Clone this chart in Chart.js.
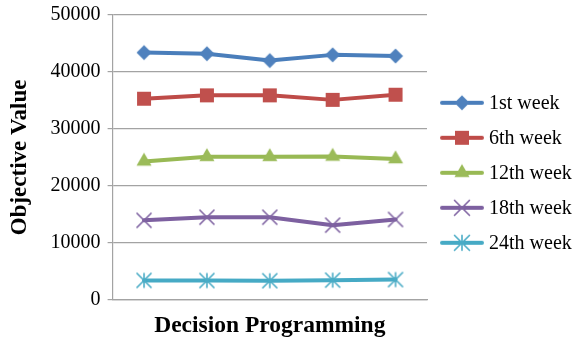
<!DOCTYPE html>
<html>
<head>
<meta charset="utf-8">
<script src="https://cdn.jsdelivr.net/npm/chart.js@4"></script>
<style>
  html, body { margin: 0; padding: 0; background: #ffffff; }
  #wrap { width: 575px; height: 340px; }
</style>
</head>
<body>
<div id="wrap"><canvas id="chart" width="575" height="340"></canvas></div>
<script>
// Decision programming runs (five alternatives along the x axis)
const categories = ['1', '2', '3', '4', '5'];
const seriesNames = ['1st week', '6th week', '12th week', '18th week', '24th week'];

// Objective value per run, one array per planning week
const week1  = [43400, 43200, 42000, 43000, 42800];
const week6  = [35300, 35900, 35900, 35100, 36000];
const week12 = [24300, 25100, 25100, 25150, 24700];
const week18 = [13950, 14500, 14500, 13100, 14100];
const week24 = [3400, 3380, 3350, 3450, 3550];

const yTicks = [0, 10000, 20000, 30000, 40000, 50000];

const seriesValues = [week1, week6, week12, week18, week24];
const lineColors   = ['#4A7EBB', '#BE4B48', '#98B954', '#7D60A0', '#46AAC5'];
const markerColors = ['#4F81BD', '#C0504D', '#9BBB59', '#8064A2', '#4BACC6'];
const markerKinds  = ['diamond', 'square', 'triangle', 'cross', 'asterisk'];

const SERIF = "'Liberation Serif', 'Times New Roman', Times, serif";

// Draws one marker glyph centred on (x, y)
function drawMarker(ctx, kind, x, y, color) {
  ctx.fillStyle = color;
  ctx.strokeStyle = color;
  ctx.beginPath();
  if (kind === 'diamond') {
    const r = 7.5;
    ctx.moveTo(x, y - r); ctx.lineTo(x + r, y); ctx.lineTo(x, y + r); ctx.lineTo(x - r, y);
    ctx.closePath(); ctx.fill();
  } else if (kind === 'square') {
    const s = 7;
    ctx.rect(x - s, y - s, 2 * s, 2 * s); ctx.fill();
  } else if (kind === 'triangle') {
    const r = 8.7;
    ctx.moveTo(x, y - r); ctx.lineTo(x + r * 0.866, y + r / 2); ctx.lineTo(x - r * 0.866, y + r / 2);
    ctx.closePath(); ctx.fill();
  } else {
    const d = 7.5;
    ctx.lineWidth = 1.6;
    ctx.moveTo(x - d, y - d); ctx.lineTo(x + d, y + d);
    ctx.moveTo(x + d, y - d); ctx.lineTo(x - d, y + d);
    if (kind === 'asterisk') { ctx.moveTo(x, y - d); ctx.lineTo(x, y + d); }
    ctx.stroke();
  }
}

function markerImage(i) {
  const cv = document.createElement('canvas');
  cv.width = 20; cv.height = 20;
  drawMarker(cv.getContext('2d'), markerKinds[i], 10, 10, markerColors[i]);
  return cv;
}

// Legend key: short line segment with the series marker on it
function legendImage(i) {
  const cv = document.createElement('canvas');
  cv.width = 46; cv.height = 20;
  const ctx = cv.getContext('2d');
  ctx.strokeStyle = lineColors[i];
  ctx.lineWidth = 4;
  ctx.lineCap = 'round';
  ctx.beginPath(); ctx.moveTo(3, 10); ctx.lineTo(43, 10); ctx.stroke();
  drawMarker(ctx, markerKinds[i], 23, 10, markerColors[i]);
  return cv;
}

const markers = seriesValues.map((_, i) => markerImage(i));
const legendIcons = seriesValues.map((_, i) => legendImage(i));

const datasets = seriesValues.map((vals, i) => ({
  label: seriesNames[i],
  data: vals,
  borderColor: lineColors[i],
  backgroundColor: markerColors[i],
  borderWidth: 4,
  borderCapStyle: 'round',
  borderJoinStyle: 'round',
  tension: 0,
  pointStyle: markers[i],
  pointRadius: 8,
  pointHoverRadius: 8
}));

// Legend to the right of the plot: line+marker key followed by the series name
const sideLegend = {
  id: 'sideLegend',
  afterDraw(chart) {
    const { ctx, chartArea } = chart;
    const keyCenterX = chartArea.right + 35;
    const textX = chartArea.right + 62;
    const rowGap = 35;
    const midY = 172.8;
    const n = chart.data.datasets.length;
    ctx.save();
    ctx.font = '20px ' + SERIF;
    ctx.fillStyle = '#000000';
    ctx.textAlign = 'left';
    ctx.textBaseline = 'middle';
    chart.data.datasets.forEach((ds, i) => {
      const y = midY + (i - (n - 1) / 2) * rowGap;
      ctx.drawImage(legendIcons[i], keyCenterX - 23, y - 10);
      ctx.fillText(ds.label, textX, y + 1);
    });
    ctx.restore();
  }
};

const GRID = '#a3a3a3';

new Chart(document.getElementById('chart'), {
  type: 'line',
  data: { labels: categories, datasets },
  plugins: [sideLegend],
  options: {
    responsive: false,
    animation: false,
    events: [],
    layout: { padding: { top: 6, right: 148, bottom: 0, left: 0 } },
    plugins: {
      tooltip: { enabled: false },
      legend: { display: false }
    },
    scales: {
      x: {
        offset: true,
        grid: { display: false, drawTicks: false },
        border: { display: true, color: GRID, width: 1.2 },
        ticks: { display: false },
        title: {
          display: true,
          text: 'Decision Programming',
          color: '#000000',
          font: { family: SERIF, size: 23.5, weight: 'bold' },
          padding: { top: 12, bottom: 0 }
        }
      },
      y: {
        min: 0,
        max: 50000,
        afterBuildTicks: axis => { axis.ticks = yTicks.map(v => ({ value: v })); },
        grid: { color: GRID, lineWidth: 1.2, tickLength: 5, drawTicks: true },
        border: { display: true, color: GRID, width: 1.2 },
        ticks: {
          padding: 7,
          color: '#000000',
          font: { family: SERIF, size: 20, lineHeight: '16px' },
          callback: v => String(v)
        },
        title: {
          display: true,
          text: 'Objective Value',
          color: '#000000',
          font: { family: SERIF, size: 23, weight: 'bold' },
          padding: { top: 6, bottom: 10 }
        }
      }
    }
  }
});
</script>
</body>
</html>
